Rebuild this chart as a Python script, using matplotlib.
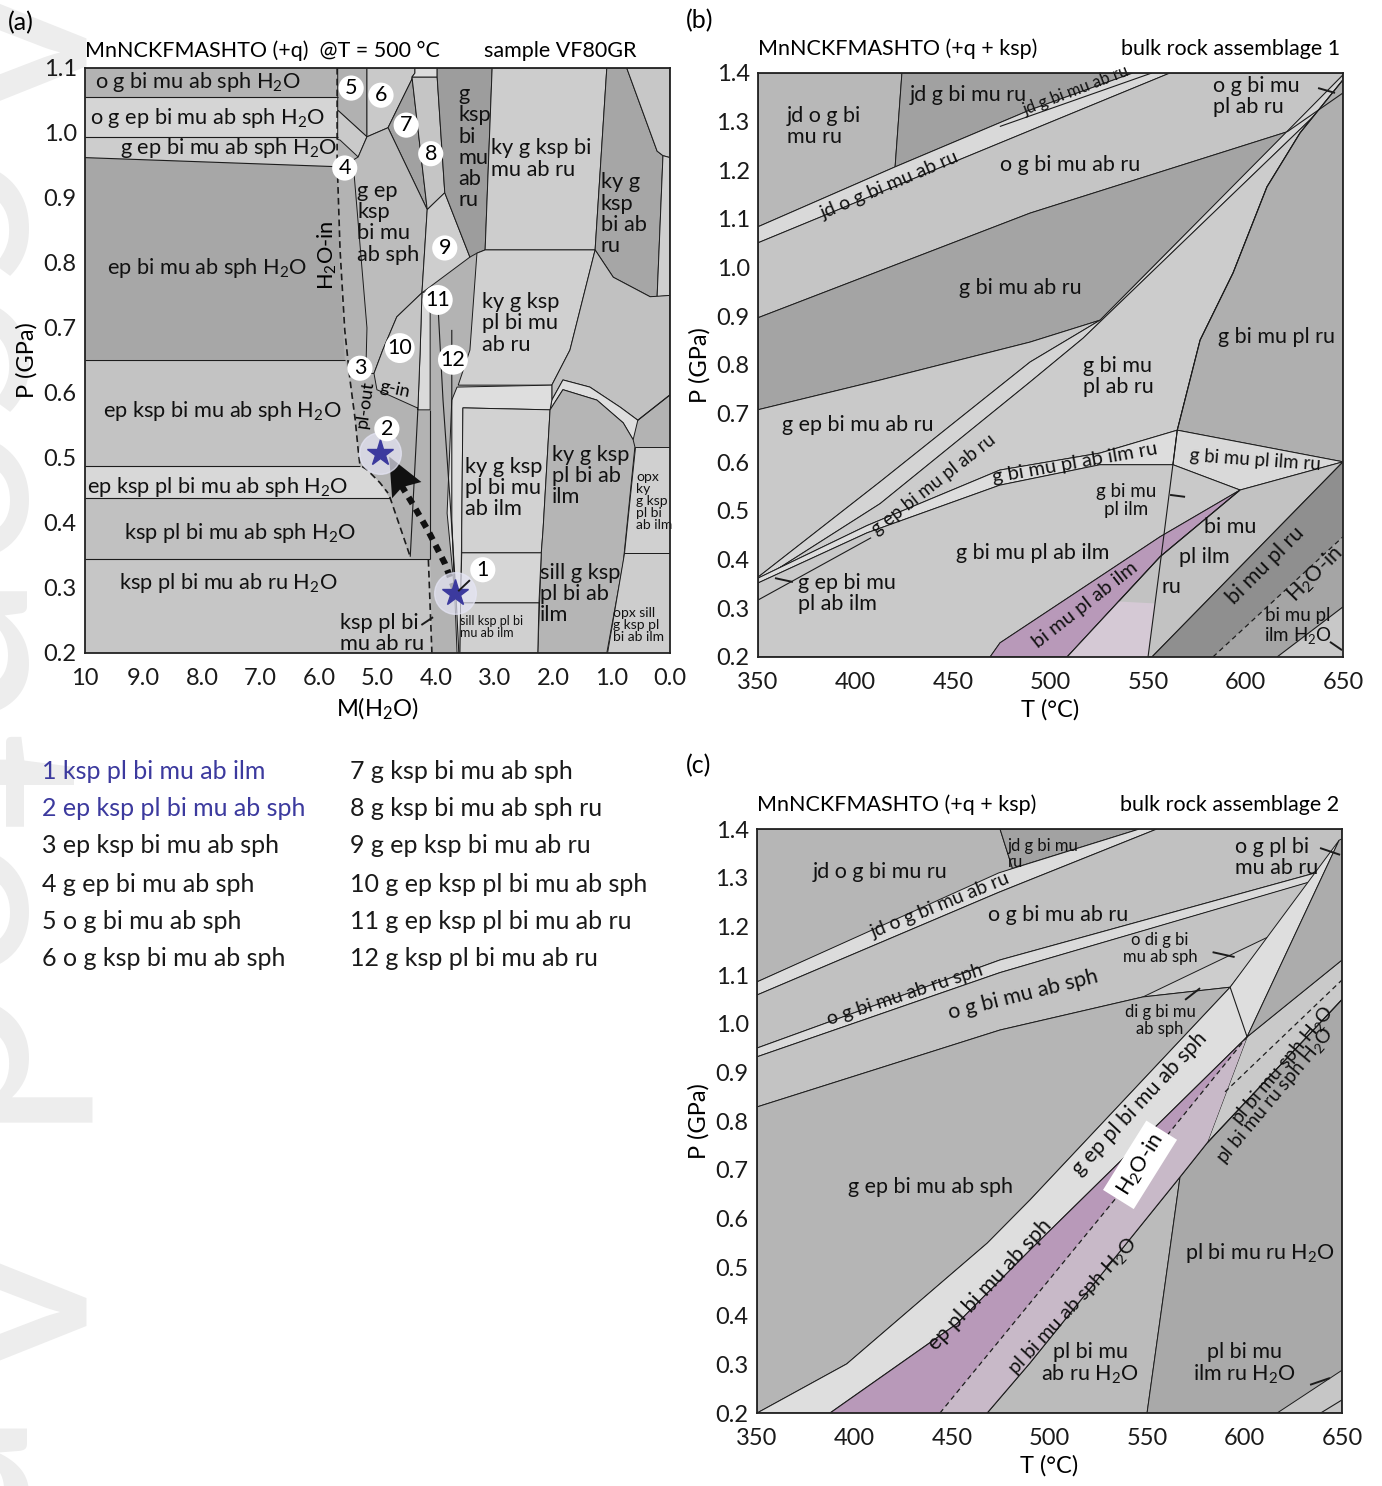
import matplotlib
matplotlib.use('Agg')
from matplotlib import pyplot as plt
from matplotlib.patches import Polygon

plt.rcParams['font.family'] = ['Lato', 'DejaVu Sans']
plt.rcParams['mathtext.fontset'] = 'custom'
plt.rcParams['mathtext.rm'] = 'Lato'
plt.rcParams['mathtext.default'] = 'regular'

# ---------------- (a) M(H2O)-P section, T = 500 C ----------------
# field outlines as (M(H2O), P GPa)
a_og_bi = [(10, 1.1), (5.68, 1.1), (5.68, 1.055), (10, 1.055)]
a_og_ep = [(10, 1.055), (5.68, 1.055), (5.68, 0.994), (10, 0.994)]
a_g_ep = [(10, 0.994), (5.68, 0.994), (5.68, 0.948), (10, 0.962)]
a_ep_bi = [(10, 0.962), (5.68, 0.948), (5.65, 0.80), (5.56, 0.651), (10, 0.651)]
a_ep_ksp = [(10, 0.651), (5.56, 0.651), (5.47, 0.62), (5.38, 0.558), (5.30, 0.488), (10, 0.488)]
a_ep_ksp_pl = [(10, 0.488), (5.30, 0.488), (5.18, 0.482), (4.96, 0.462), (4.79, 0.438), (10, 0.438)]
a_ksp_sph = [(10, 0.438), (4.79, 0.438), (4.44, 0.345), (10, 0.345)]
a_ksp_ru = [(10, 0.345), (4.10, 0.345), (4.07, 0.2), (10, 0.2)]
a_band_lines = [
    [(10, 1.055), (5.68, 1.055)],
    [(10, 0.994), (5.68, 0.994)],
    [(10, 0.962), (5.68, 0.948)],
    [(10, 0.651), (5.56, 0.651)],
    [(10, 0.488), (5.30, 0.488)],
    [(10, 0.438), (4.79, 0.438)],
    [(10, 0.345), (4.10, 0.345)],
]

a_f5 = [(5.68, 1.1), (5.18, 1.1), (5.18, 0.994), (5.68, 1.035)]
a_f5b = [(5.68, 1.035), (5.18, 0.994), (5.33, 0.963), (5.64, 0.989), (5.68, 0.99)]
a_f6 = [(5.18, 1.1), (4.36, 1.1), (4.36, 1.092), (4.82, 1.008), (5.18, 0.994)]
a_f7 = [(4.82, 1.008), (4.36, 1.092), (4.41, 1.086), (4.15, 0.882)]
a_f8 = [(4.41, 1.086), (3.98, 1.086), (3.85, 0.908), (4.15, 0.882)]
a_ftop = [(4.36, 1.1), (3.98, 1.1), (3.98, 1.086), (4.41, 1.086), (4.36, 1.092)]
a_f4 = [(5.42, 0.958), (5.33, 0.963), (5.18, 0.994), (4.82, 1.008), (4.15, 0.882),
        (4.24, 0.754), (4.67, 0.717), (4.91, 0.666), (5.06, 0.63), (5.20, 0.63), (5.18, 0.70)]
a_f9 = [(4.15, 0.882), (3.85, 0.908), (3.42, 0.809), (4.24, 0.754)]
a_gksp = [(3.98, 1.1), (3.04, 1.1), (3.16, 0.82), (3.30, 0.815), (3.42, 0.809), (3.85, 0.908), (3.98, 1.086)]
a_kyg1 = [(3.04, 1.1), (1.08, 1.1), (1.28, 0.82), (3.16, 0.82)]
a_kyg2 = [(1.08, 1.1), (0.74, 1.1), (0.22, 0.972), (0.12, 0.965), (0.22, 0.748), (0.34, 0.748),
          (0.97, 0.778), (1.28, 0.82)]
a_strip = [(0.74, 1.1), (0, 1.1), (0, 0.962), (0.12, 0.965), (0.22, 0.972)]
a_strip2 = [(0.12, 0.965), (0, 0.962), (0, 0.75), (0.22, 0.748)]
a_kyg3 = [(3.16, 0.82), (1.28, 0.82), (1.71, 0.666), (2.02, 0.612), (3.62, 0.612), (3.42, 0.666), (3.30, 0.815)]
a_kyg4 = [(1.28, 0.82), (0.97, 0.778), (0.34, 0.748), (0, 0.75), (0, 0.597), (0.55, 0.558), (0.85, 0.578),
          (1.37, 0.609), (1.83, 0.62), (2.02, 0.589), (2.02, 0.612), (1.71, 0.666)]
a_arch = [(2.02, 0.589), (1.83, 0.62), (1.37, 0.609), (0.85, 0.578), (0.55, 0.558),
          (0.63, 0.528), (0.80, 0.554), (1.25, 0.589), (1.83, 0.605), (2.05, 0.574)]
a_hband = [(3.64, 0.609), (2.02, 0.612), (2.02, 0.589), (2.05, 0.574), (3.54, 0.577), (3.56, 0.389),
           (3.59, 0.2), (3.64, 0.2), (3.68, 0.292), (3.81, 0.415), (3.73, 0.589)]
a_kyg5 = [(3.54, 0.577), (2.05, 0.574), (2.17, 0.389), (2.20, 0.354), (3.56, 0.354), (3.56, 0.389)]
a_arch_in = [(2.05, 0.574), (1.83, 0.605), (1.25, 0.589), (0.80, 0.554), (0.63, 0.528), (0.60, 0.517),
             (0.80, 0.338), (1.08, 0.2), (2.26, 0.2), (2.20, 0.354), (2.17, 0.389)]
a_opx1 = [(0.60, 0.517), (0, 0.517), (0, 0.354), (0.78, 0.354)]
a_opx2 = [(0.78, 0.354), (0, 0.354), (0, 0.2), (1.08, 0.2)]
a_f1 = [(3.56, 0.354), (2.20, 0.354), (2.24, 0.277), (3.58, 0.277)]
a_sill = [(3.58, 0.277), (2.24, 0.277), (2.26, 0.2), (3.59, 0.2)]
a_f11 = [(4.24, 0.754), (4.10, 0.758), (4.10, 0.574), (4.31, 0.574), (4.27, 0.666)]
a_f10 = [(4.91, 0.666), (4.67, 0.717), (4.24, 0.754), (4.27, 0.666), (4.31, 0.574),
         (4.32, 0.577), (5.01, 0.605), (5.06, 0.63)]
a_extra_lines = [
    [(4.31, 0.574), (4.44, 0.348)],
    [(3.98, 0.758), (3.88, 0.589), (3.76, 0.435), (3.66, 0.292), (3.61, 0.2)],
    [(3.73, 0.697), (3.73, 0.558), (3.73, 0.405), (3.68, 0.292)],
    [(4.10, 0.574), (4.10, 0.345)],
    [(0.55, 0.558), (0, 0.597)],
]
a_h2o_in = [(5.69, 1.1), (5.69, 0.958), (5.64, 0.82), (5.56, 0.697), (5.47, 0.62), (5.38, 0.558),
            (5.33, 0.512), (5.30, 0.489), (5.18, 0.482), (4.96, 0.462), (4.82, 0.446)]
a_dash2 = [(4.79, 0.44), (4.44, 0.348)]
a_dash3 = [(4.13, 0.343), (4.07, 0.2)]
a_path = [(3.68, 0.297), (3.85, 0.338), (4.14, 0.389), (4.39, 0.428), (4.65, 0.466)]
a_arrow = [(4.80, 0.502), (4.25, 0.463), (4.58, 0.455), (4.75, 0.438)]
a_stars_m = [3.68, 4.96]
a_stars_p = [0.292, 0.508]

a_labels = [
    (9.83, 1.078, 'o g bi mu ab sph H$_2$O'),
    (9.91, 1.023, 'o g ep bi mu ab sph H$_2$O'),
    (9.40, 0.977, 'g ep bi mu ab sph H$_2$O'),
    (9.62, 0.792, 'ep bi mu ab sph H$_2$O'),
    (9.69, 0.572, 'ep ksp bi mu ab sph H$_2$O'),
    (9.97, 0.455, 'ep ksp pl bi mu ab sph H$_2$O'),
    (9.33, 0.385, 'ksp pl bi mu ab sph H$_2$O'),
    (9.42, 0.308, 'ksp pl bi mu ab ru H$_2$O'),
    (5.64, 0.230, 'ksp pl bi\nmu ab ru'),
    (5.35, 0.862, 'g ep\nksp\nbi mu\nab sph'),
    (3.62, 0.978, 'g\nksp\nbi\nmu\nab\nru'),
    (3.06, 0.960, 'ky g ksp bi\nmu ab ru'),
    (1.18, 0.875, 'ky g\nksp\nbi ab\nru'),
    (3.21, 0.707, 'ky g ksp\npl bi mu\nab ru'),
    (3.50, 0.454, 'ky g ksp\npl bi mu\nab ilm'),
    (2.02, 0.472, 'ky g ksp\npl bi ab\nilm'),
    (2.22, 0.291, 'sill g ksp\npl bi ab\nilm'),
]
a_small_labels = [
    (0.58, 0.434, 'opx\nky\ng ksp\npl bi\nab ilm', 10),
    (0.97, 0.243, 'opx sill\ng ksp pl\nbi ab ilm', 10),
    (3.59, 0.240, 'sill ksp pl bi\nmu ab ilm', 9),
]
a_circled = [(3.20, 0.328, '1'), (4.84, 0.545, '2'), (5.30, 0.638, '3'), (5.56, 0.946, '4'),
             (5.45, 1.069, '5'), (4.94, 1.058, '6'), (4.51, 1.012, '7'), (4.09, 0.968, '8'),
             (3.85, 0.823, '9'), (4.62, 0.669, '10'), (3.97, 0.743, '11'), (3.71, 0.651, '12')]
a_leaders = [[(3.42, 0.312), (3.62, 0.295)], [(4.25, 0.243), (4.05, 0.255)]]

# ---------------- (b) T-P section, bulk rock assemblage 1 ----------------
b_jdog = [(350, 1.4), (423.8, 1.4), (420.3, 1.207), (350, 1.084)]
b_jdg = [(423.8, 1.4), (542.3, 1.4), (489.5, 1.324), (420.3, 1.207)]
b_jdband = [(350, 1.084), (420.3, 1.207), (489.5, 1.324), (542.3, 1.4), (561.3, 1.4), (474, 1.256), (350, 1.051)]
b_og = [(350, 1.051), (474, 1.256), (561.3, 1.4), (650, 1.4), (650, 1.396), (621.3, 1.279), (489.5, 1.112), (350, 0.897)]
b_gbm = [(350, 0.897), (489.5, 1.112), (621.3, 1.279), (525.4, 0.892), (489.5, 0.847), (412.6, 0.769), (350, 0.708)]
b_gep = [(350, 0.708), (412.6, 0.769), (489.5, 0.847), (525.4, 0.892), (489.5, 0.806), (412.6, 0.56), (350, 0.364)]
b_band = [(350, 0.364), (412.6, 0.56), (489.5, 0.806), (525.4, 0.892), (650, 1.396), (650, 1.369),
          (516.7, 0.855), (489.5, 0.765), (412.6, 0.515), (350, 0.355)]
b_gbmplabru = [(350, 0.355), (412.6, 0.515), (489.5, 0.765), (516.7, 0.855), (650, 1.369), (650, 1.386),
               (628, 1.277), (611, 1.166), (593.6, 0.989), (576.7, 0.851), (565, 0.666), (525.4, 0.619),
               (474, 0.584), (405.9, 0.47), (350, 0.362)]
b_gbmplru = [(565, 0.666), (576.7, 0.851), (593.6, 0.989), (611, 1.166), (628, 1.277), (650, 1.386), (650, 0.601)]
b_ilmru = [(350, 0.362), (405.9, 0.47), (474, 0.584), (525.4, 0.619), (565, 0.666), (562.8, 0.595),
           (525.4, 0.595), (474, 0.553), (405.9, 0.455), (350, 0.352)]
b_plilmru = [(565, 0.666), (650, 0.601), (597.2, 0.543), (562.8, 0.595)]
b_lower = [(350, 0.2), (350, 0.352), (405.9, 0.455), (474, 0.553), (525.4, 0.595), (562.8, 0.595),
           (597.2, 0.543), (556.2, 0.447), (474.1, 0.229), (469, 0.2)]
b_purple = [(469, 0.2), (474.1, 0.229), (556.2, 0.447), (597.2, 0.543), (556.2, 0.406), (508.5, 0.2)]
b_glow = [(508.5, 0.2), (550, 0.2), (553.5, 0.31), (535, 0.314)]
b_bmpi = [(508.5, 0.2), (556.2, 0.406), (597.2, 0.543), (650, 0.601), (552, 0.2)]
b_dark = [(552, 0.2), (650, 0.601), (650, 0.447), (583.3, 0.2)]
b_right = [(583.3, 0.2), (650, 0.447), (650, 0.303), (616.2, 0.2)]
b_corner = [(616.2, 0.2), (650, 0.303), (650, 0.2)]
b_curve = [(550, 0.2), (557.5, 0.43), (565, 0.666), (576.7, 0.851), (593.6, 0.989), (611, 1.166), (628, 1.277), (650, 1.386)]
b_extra_lines = [
    [(474, 1.29), (552, 1.4)],
    [(621.3, 1.279), (650, 1.359)],
    [(350, 0.317), (408, 0.445)],
    [(552, 0.2), (650, 0.601)],
    [(616.2, 0.2), (650, 0.303)],
    [(508.5, 0.2), (556.2, 0.406), (597.2, 0.543)],
]
b_h2o_in = [(583.3, 0.2), (650, 0.447)]
b_labels = [
    (364.9, 1.29, 'jd o g bi\nmu ru', 0, 'left', 15.5),
    (428, 1.355, 'jd g bi mu ru', 0, 'left', 15.5),
    (513, 1.364, 'jd g bi mu ab ru', 21, 'center', 12),
    (417.7, 1.170, 'jd o g bi mu ab ru', 23, 'center', 14),
    (510, 1.211, 'o g bi mu ab ru', 0, 'center', 15.5),
    (484.4, 0.958, 'g bi mu ab ru', 0, 'center', 15.5),
    (616, 0.858, 'g bi mu pl ru', 0, 'center', 15.5),
    (534.6, 0.777, 'g bi mu\npl ab ru', 0, 'center', 15.5),
    (401, 0.677, 'g ep bi mu ab ru', 0, 'center', 15.5),
    (440, 0.555, 'g ep bi mu pl ab ru', 38, 'center', 13.5),
    (512.6, 0.598, 'g bi mu pl ab ilm ru', 10, 'center', 14.5),
    (604.9, 0.605, 'g bi mu pl ilm ru', -4, 'center', 13.5),
    (539, 0.522, 'g bi mu\npl ilm', 0, 'center', 13.5),
    (491, 0.414, 'g bi mu pl ab ilm', 0, 'center', 15.5),
    (370.5, 0.33, 'g ep bi mu\npl ab ilm', 0, 'left', 15.5),
    (517.7, 0.307, 'bi mu pl ab ilm', 38, 'center', 14.5),
    (592, 0.467, 'bi mu', 0, 'center', 15.5),
    (579, 0.406, 'pl ilm', 0, 'center', 15.5),
    (562, 0.344, 'ru', 0, 'center', 15.5),
    (610, 0.389, 'bi mu pl ru', 45, 'center', 15.5),
    (635.6, 0.369, 'H$_2$O-in', 45, 'center', 15.5),
    (627, 0.262, 'bi mu pl\nilm H$_2$O', 0, 'center', 13.5),
    (583.3, 1.352, 'o g bi mu\npl ab ru', 0, 'left', 15.5),
]
b_leaders = [[(637.2, 1.369), (645.9, 1.359)], [(561.3, 0.533), (569, 0.529)],
             [(358.7, 0.362), (367.9, 0.354)], [(643.3, 0.231), (649.5, 0.214)]]

# ---------------- (c) T-P section, bulk rock assemblage 2 ----------------
c_jdog = [(350, 1.4), (474.6, 1.4), (481, 1.319), (350, 1.086)]
c_jdg = [(474.6, 1.4), (546, 1.4), (481, 1.319)]
c_band1 = [(350, 1.086), (474, 1.31), (546, 1.4), (555, 1.4), (474, 1.27), (350, 1.059)]
c_ogru = [(350, 1.059), (474, 1.27), (555, 1.4), (650, 1.4), (650, 1.325), (474.6, 1.131), (350, 0.95)]
c_band2 = [(350, 0.95), (474.6, 1.131), (650, 1.325), (650, 1.31), (474.6, 1.105), (350, 0.932)]
c_ogsph = [(350, 0.932), (474.6, 1.105), (645, 1.305), (592.6, 1.075), (547.9, 1.055), (474.6, 0.987), (350, 0.829)]
c_odig = [(547.9, 1.055), (613, 1.18), (592.6, 1.075)]
c_gep = [(350, 0.829), (474.6, 0.987), (547.9, 1.055), (592.6, 1.075), (490, 0.638), (468, 0.549), (396, 0.301), (350, 0.2)]
c_wedge = [(350, 0.2), (396, 0.301), (468, 0.549), (490, 0.638), (592.6, 1.075), (648.5, 1.377),
           (601.3, 0.973), (490, 0.535), (452.3, 0.383), (387.4, 0.2)]
c_purple = [(387.4, 0.2), (452.3, 0.383), (490, 0.535), (601.3, 0.973), (546, 0.70), (490, 0.426), (443.8, 0.2)]
c_pink2 = [(443.8, 0.2), (490, 0.426), (546, 0.70), (601.3, 0.973), (580.8, 0.755), (566.9, 0.685), (490, 0.303), (468, 0.2)]
c_abru = [(468, 0.2), (490, 0.303), (566.9, 0.685), (550, 0.2)]
c_ruh2o = [(550, 0.2), (566.9, 0.685), (580.8, 0.755), (650, 1.05), (650, 0.2)]
c_sphband = [(580.8, 0.755), (601.3, 0.973), (650, 1.131), (650, 1.05)]
c_topright = [(601.3, 0.973), (648.5, 1.377), (650, 1.38), (650, 1.131)]
c_corner = [(616.7, 0.2), (650, 0.288), (650, 0.2)]
c_w2 = [(387.4, 0.2), (452.3, 0.383), (490, 0.535), (601.3, 0.973)]
c_s = [(468, 0.2), (490, 0.303), (566.9, 0.685), (580.8, 0.755), (650, 1.05)]
c_h2o_in = [(443.8, 0.2), (490, 0.426), (546, 0.70), (601.3, 0.973)]
c_dash2 = [(590, 0.86), (650, 1.09)]
c_extra_lines = [[(639, 0.2), (650, 0.227)], [(592.6, 1.075), (601.3, 0.973)]]
c_labels = [
    (413, 1.312, 'jd o g bi mu ru', 0, 'center', 15.5),
    (478.7, 1.349, 'jd g bi mu\nru', 0, 'left', 12),
    (443.8, 1.244, 'jd o g bi mu ab ru', 22, 'center', 14),
    (504.4, 1.223, 'o g bi mu ab ru', 0, 'center', 15.5),
    (425.9, 1.059, 'o g bi mu ab ru sph', 18, 'center', 14),
    (486.4, 1.059, 'o g bi mu ab sph', 14, 'center', 15.5),
    (556.7, 1.155, 'o di g bi\nmu ab sph', 0, 'center', 12),
    (556.7, 1.006, 'di g bi mu\nab sph', 0, 'center', 12),
    (438.7, 0.664, 'g ep bi mu ab sph', 0, 'center', 15.5),
    (546.4, 0.835, 'g ep pl bi mu ab sph', 47, 'center', 15.5),
    (469.5, 0.463, 'ep pl bi mu ab sph', 47, 'center', 15.5),
    (512, 0.42, 'pl bi mu ab sph H$_2$O', 47, 'center', 14.5),
    (619.7, 0.915, 'pl bi mu sph H$_2$O', 50, 'center', 14),
    (615.6, 0.853, 'pl bi mu ru sph H$_2$O', 50, 'center', 14),
    (608, 0.529, 'pl bi mu ru H$_2$O', 0, 'center', 15.5),
    (520.8, 0.30, 'pl bi mu\nab ru H$_2$O', 0, 'center', 15.5),
    (600, 0.30, 'pl bi mu\nilm ru H$_2$O', 0, 'center', 15.5),
    (595, 1.342, 'o g pl bi\nmu ab ru', 0, 'left', 15.5),
]
c_leaders = [[(638.7, 1.361), (649, 1.347)], [(583.6, 1.147), (594.9, 1.137)],
             [(569.5, 1.049), (577.2, 1.073)], [(633.6, 0.258), (643.8, 0.272)]]

# assemblages for the numbered fields of (a)
key_left = ['1 ksp pl bi mu ab ilm', '2 ep ksp pl bi mu ab sph', '3 ep ksp bi mu ab sph',
            '4 g ep bi mu ab sph', '5 o g bi mu ab sph', '6 o g ksp bi mu ab sph']
key_right = ['7 g ksp bi mu ab sph', '8 g ksp bi mu ab sph ru', '9 g ep ksp bi mu ab ru',
             '10 g ep ksp pl bi mu ab sph', '11 g ep ksp pl bi mu ab ru', '12 g ksp pl bi mu ab ru']

INK = '#1c1c1c'
PURPLE = '#b899b9'
LABEL_FS = 15.7


def fill(ax, verts, color, edge=True, z=1):
    ax.add_patch(Polygon(verts, closed=True, fc=color,
                         ec=INK if edge else 'none', lw=0.7, zorder=z))


def line(ax, pts, ls='-', lw=0.8, color=INK, z=3):
    xs, ys = zip(*pts)
    ax.plot(xs, ys, ls=ls, lw=lw, color=color, zorder=z, solid_capstyle='butt')


def style_axes(ax):
    for s in ax.spines.values():
        s.set_linewidth(1.3)
        s.set_color('#222222')
        s.set_zorder(10)
    ax.tick_params(length=0, labelsize=17, colors='#1a1a1a')
    ax.tick_params(axis='x', pad=11)
    ax.tick_params(axis='y', pad=6)


fig = plt.figure(figsize=(13.82, 14.86), dpi=100)

# journal watermark down the left margin, kept behind everything else
fig.text(-0.028, 1.03, 'Accepted Article', rotation=-90, fontsize=205, color='#ededed',
         ha='center', va='top', zorder=-5)

# ---- panel (a)
ax = fig.add_axes([0.0615, 0.5606, 0.4233, 0.3937])
ax.set_facecolor('#b3b3b3')
ax.set_xlim(10, 0)
ax.set_ylim(0.2, 1.1)
for verts, col in [(a_og_bi, '#b3b3b3'), (a_og_ep, '#d5d5d5'), (a_g_ep, '#cdcdcd'),
                   (a_ep_bi, '#a7a7a7'), (a_ep_ksp, '#c3c3c3'), (a_ep_ksp_pl, '#d8d8d8'),
                   (a_ksp_sph, '#c1c1c1'), (a_ksp_ru, '#c6c6c6')]:
    fill(ax, verts, col, edge=False)
for pts in a_band_lines:
    line(ax, pts)
for verts, col in [(a_f5, '#b1b1b1'), (a_f5b, '#cacaca'), (a_f6, '#c9c9c9'), (a_f7, '#a1a1a1'),
                   (a_f8, '#c5c5c5'), (a_ftop, '#dcdcdc'), (a_f4, '#bcbcbc'), (a_f9, '#cecece'),
                   (a_gksp, '#9d9d9d'), (a_kyg1, '#cdcdcd'), (a_kyg2, '#a6a6a6'), (a_strip, '#c7c7c7'),
                   (a_strip2, '#cfcfcf'),
                   (a_kyg3, '#d0d0d0'), (a_kyg4, '#c1c1c1'), (a_arch, '#dedede'), (a_hband, '#dedede'),
                   (a_kyg5, '#d2d2d2'), (a_arch_in, '#b5b5b5'), (a_opx1, '#d0d0d0'), (a_opx2, '#cdcdcd'),
                   (a_f1, '#d6d6d6'), (a_sill, '#d0d0d0'), (a_f11, '#dadada'), (a_f10, '#c5c5c5')]:
    fill(ax, verts, col)
for pts in a_extra_lines:
    line(ax, pts)
line(ax, a_h2o_in, ls=(0, (4, 2.5)), lw=1.2)
line(ax, a_dash2, ls=(0, (4, 2.5)), lw=1.2)
line(ax, a_dash3, ls=(0, (4, 2.5)), lw=1.2)
line(ax, a_path, ls=(0, (1.2, 1.0)), lw=4.5, color='#111111', z=5)
ax.add_patch(Polygon(a_arrow, closed=True, fc='#111111', ec='none', zorder=6))
ax.plot(a_stars_m, a_stars_p, ls='none', marker='o', ms=30, color='#e6e6f6', alpha=0.7, zorder=6)
ax.plot(a_stars_m, a_stars_p, ls='none', marker='*', ms=20, color='#3c3a9e', zorder=7)
for pts in a_leaders:
    line(ax, pts, lw=1.4, z=7)
for m, p, s in a_labels:
    ax.text(m, p, s, ha='left', va='center', fontsize=LABEL_FS, linespacing=1.08, color='#111111', zorder=8)
for m, p, s, fs in a_small_labels:
    ax.text(m, p, s, ha='left', va='center', fontsize=fs, linespacing=1.0, color='#111111', zorder=8)
ax.text(5.86, 0.812, 'H$_2$O-in', rotation=90, ha='center', va='center', fontsize=LABEL_FS, zorder=8)
ax.text(5.21, 0.582, 'pl-out', rotation=82, ha='center', va='center', fontsize=13, zorder=8)
ax.text(4.70, 0.606, 'g-in', rotation=-12, ha='center', va='center', fontsize=13, zorder=8)
for m, p, s in a_circled:
    ax.text(m, p, s, ha='center', va='center', fontsize=15.5, zorder=9,
            bbox=dict(boxstyle='circle,pad=0.12', fc='white', ec='none'))
ax.set_xticks([10, 9, 8, 7, 6, 5, 4, 3, 2, 1, 0])
ax.set_xticklabels(['10', '9.0', '8.0', '7.0', '6.0', '5.0', '4.0', '3.0', '2.0', '1.0', '0.0'])
ax.set_yticks([0.2, 0.3, 0.4, 0.5, 0.6, 0.7, 0.8, 0.9, 1.0, 1.1])
ax.set_yticklabels(['0.2', '0.3', '0.4', '0.5', '0.6', '0.7', '0.8', '0.9', '1.0', '1.1'])
style_axes(ax)
ax.set_xlabel('M(H$_2$O)', fontsize=17, labelpad=5)
ax.set_ylabel('P (GPa)', fontsize=17, labelpad=4)
ax.text(0.0, 1.012, 'MnNCKFMASHTO (+q)  @T = 500 °C', transform=ax.transAxes,
        ha='left', va='bottom', fontsize=15.5)
ax.text(0.942, 1.012, 'sample VF80GR', transform=ax.transAxes, ha='right', va='bottom', fontsize=15.5)


def tp_axes(rect, title_right):
    ax = fig.add_axes(rect)
    ax.set_xlim(350, 650)
    ax.set_ylim(0.2, 1.4)
    ax.set_xticks([350, 400, 450, 500, 550, 600, 650])
    ax.set_yticks([0.2, 0.3, 0.4, 0.5, 0.6, 0.7, 0.8, 0.9, 1.0, 1.1, 1.2, 1.3, 1.4])
    ax.set_yticklabels(['0.2', '0.3', '0.4', '0.5', '0.6', '0.7', '0.8', '0.9',
                        '1.0', '1.1', '1.2', '1.3', '1.4'])
    style_axes(ax)
    ax.set_xlabel('T (°C)', fontsize=17, labelpad=4)
    ax.set_ylabel('P (GPa)', fontsize=17, labelpad=4)
    ax.text(0.0, 1.024, 'MnNCKFMASHTO (+q + ksp)', transform=ax.transAxes,
            ha='left', va='bottom', fontsize=15.5)
    ax.text(0.995, 1.024, title_right, transform=ax.transAxes, ha='right', va='bottom', fontsize=15.5)
    return ax


def put_labels(ax, labels):
    for t, p, s, rot, ha, fs in labels:
        ax.text(t, p, s, rotation=rot, ha=ha, va='center', fontsize=fs, linespacing=1.05,
                color='#111111', rotation_mode='anchor', zorder=8)


# ---- panel (b)
ax = tp_axes([0.5485, 0.5579, 0.4233, 0.3930], 'bulk rock assemblage 1')
ax.set_facecolor('#b3b3b3')
for verts, col in [(b_jdog, '#b8b8b8'), (b_jdg, '#a1a1a1'), (b_jdband, '#d9d9d9'), (b_og, '#c5c5c5'),
                   (b_gbm, '#a4a4a4'), (b_gep, '#c9c9c9'), (b_band, '#d4d4d4'), (b_gbmplabru, '#cccccc'),
                   (b_gbmplru, '#afafaf'), (b_ilmru, '#dddddd'), (b_plilmru, '#d9d9d9'), (b_lower, '#c9c9c9'),
                   (b_purple, PURPLE), (b_bmpi, '#c2c2c2')]:
    fill(ax, verts, col)
fill(ax, b_glow, '#d5c9d5', edge=False, z=1.5)
for verts, col in [(b_dark, '#8f8f8f'), (b_right, '#a5a5a5'), (b_corner, '#c8c8c8')]:
    fill(ax, verts, col, edge=False)
line(ax, b_curve)
for pts in b_extra_lines:
    line(ax, pts)
line(ax, b_h2o_in, ls=(0, (4, 3)), lw=0.9)
for pts in b_leaders:
    line(ax, pts, lw=1.4, z=7)
put_labels(ax, b_labels)

# ---- panel (c)
ax = tp_axes([0.5478, 0.0491, 0.4233, 0.3930], 'bulk rock assemblage 2')
ax.set_facecolor('#b5b5b5')
for verts, col in [(c_jdog, '#b6b6b6'), (c_jdg, '#a2a2a2'), (c_band1, '#dcdcdc'), (c_ogru, '#c1c1c1'),
                   (c_band2, '#dadada'), (c_ogsph, '#c3c3c3'), (c_odig, '#cdcdcd'), (c_gep, '#b5b5b5'),
                   (c_wedge, '#dedede'), (c_abru, '#bbbbbb'), (c_ruh2o, '#a9a9a9'),
                   (c_sphband, '#c9c9c9'), (c_topright, '#acacac'), (c_corner, '#c6c6c6')]:
    fill(ax, verts, col)
fill(ax, c_purple, PURPLE, edge=False, z=2)
fill(ax, c_pink2, '#c8b9c8', edge=False, z=2)
line(ax, c_w2)
line(ax, c_s)
line(ax, c_h2o_in, ls=(0, (4, 3)), lw=0.9)
line(ax, c_dash2, ls=(0, (4, 3)), lw=0.9)
for pts in c_extra_lines:
    line(ax, pts)
for pts in c_leaders:
    line(ax, pts, lw=1.4, z=7)
put_labels(ax, c_labels)
ax.text(546.4, 0.71, 'H$_2$O-in', rotation=58, ha='center', va='center', fontsize=15.5, zorder=9,
        rotation_mode='anchor', bbox=dict(boxstyle='square,pad=0.3', fc='white', ec='none'))

# panel letters
fig.text(0.006, 0.985, '(a)', fontsize=18, ha='left', va='center')
fig.text(0.496, 0.986, '(b)', fontsize=18, ha='left', va='center')
fig.text(0.496, 0.485, '(c)', fontsize=18, ha='left', va='center')

# key to the numbered fields
rows_y = [0.4805, 0.4556, 0.4307, 0.4051, 0.3802, 0.3553]
for i, (s1, s2) in enumerate(zip(key_left, key_right)):
    fig.text(0.0304, rows_y[i], s1, fontsize=18, va='center', ha='left',
             color='#3c3a9e' if i < 2 else '#1a1a1a')
    fig.text(0.2533, rows_y[i], s2, fontsize=18, va='center', ha='left', color='#1a1a1a')

fig.savefig('out.png', dpi=100)
